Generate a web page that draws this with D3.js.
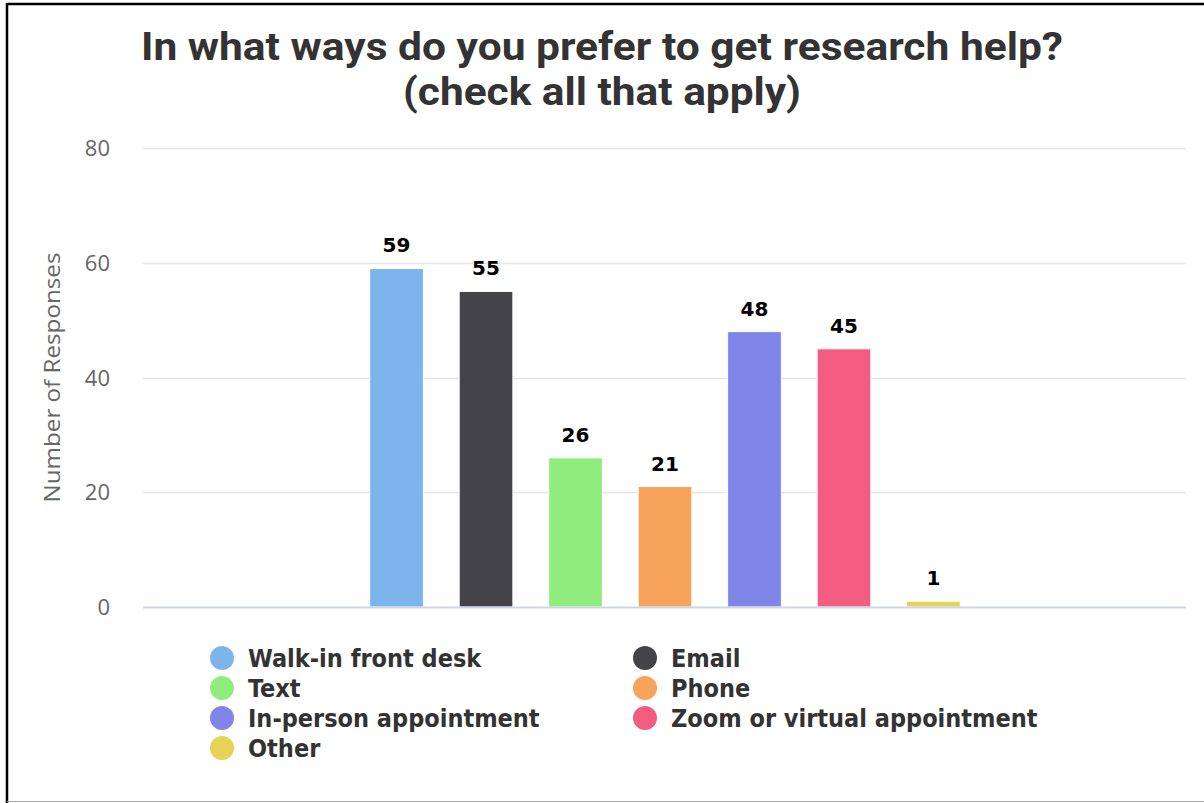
<!DOCTYPE html>
<html>
<head>
<meta charset="utf-8">
<script src="https://cdn.jsdelivr.net/npm/d3@7"></script>
<style>
  body { margin: 0; background: #fff; }
  svg { display: block; }
</style>
</head>
<body>
<script>
// chart data
var categories = ['Walk-in front desk', 'Email', 'Text', 'Phone', 'In-person appointment', 'Zoom or virtual appointment', 'Other'];
var values = [59, 55, 26, 21, 48, 45, 1];
var colors = ['#7cb5ec', '#434348', '#90ed7d', '#f7a35c', '#8085e9', '#f15c80', '#e4d354'];
var yTicks = [0, 20, 40, 60, 80];
var titleLines = ['In what ways do you prefer to get research help?', '(check all that apply)'];
var yTitle = 'Number of Responses';

var W = 1204, H = 803;
var plot = { left: 143, right: 1187, top: 148, bottom: 607 };

var svg = d3.select('body').append('svg')
    .attr('width', W)
    .attr('height', H);

svg.append('rect').attr('width', W).attr('height', H).attr('fill', '#fff');

// frame
svg.append('line').attr('x1', 7).attr('x2', W).attr('y1', 4).attr('y2', 4)
    .attr('stroke', '#000').attr('stroke-width', 2.5);
svg.append('line').attr('x1', 7).attr('x2', 7).attr('y1', 3).attr('y2', H)
    .attr('stroke', '#000').attr('stroke-width', 2.5);
svg.append('line').attr('x1', 7).attr('x2', W).attr('y1', 801.5).attr('y2', 801.5)
    .attr('stroke', '#aaa').attr('stroke-width', 1);

// title, one text per line
svg.append('g').selectAll('text')
    .data(titleLines)
    .enter().append('text')
    .attr('text-anchor', 'middle')
    .attr('font-family', 'Roboto, sans-serif')
    .attr('font-weight', 'bold')
    .attr('font-size', 38)
    .attr('fill', '#333')
    .attr('x', 602)
    .attr('y', function (d, i) { return 60 + i * 45; })
    .attr('textLength', function (d, i) { return i === 0 ? 922 : 398; })
    .attr('lengthAdjust', 'spacingAndGlyphs')
    .text(function (d) { return d; });

// scales
var y = d3.scaleLinear().domain([0, 80]).range([plot.bottom, plot.top]);
var pw = plot.right - plot.left;
var x = d3.scaleBand()
    .domain(categories)
    .range([plot.left + pw * 0.2, plot.right - pw * 0.2])
    .paddingInner(0.4)
    .paddingOuter(0.2);

// grid
svg.append('g').selectAll('line')
    .data(yTicks.filter(function (d) { return d > 0; }))
    .enter().append('line')
    .attr('x1', plot.left).attr('x2', plot.right - 1)
    .attr('y1', function (d) { return Math.round(y(d)) + 0.5; })
    .attr('y2', function (d) { return Math.round(y(d)) + 0.5; })
    .attr('stroke', '#e6e6e6').attr('stroke-width', 1.5);

// y axis labels
var yAxis = d3.axisLeft(y).tickValues(yTicks).tickSize(0).tickPadding(33);
var gy = svg.append('g')
    .attr('transform', 'translate(' + plot.left + ',0)')
    .call(yAxis);
gy.select('.domain').remove();
gy.selectAll('text')
    .attr('font-family', '"Open Sans", sans-serif')
    .attr('font-size', 22)
    .attr('fill', '#666')
    .attr('dy', '0.35em');

svg.append('text')
    .attr('transform', 'translate(60,' + ((plot.top + plot.bottom) / 2) + ') rotate(-90)')
    .attr('text-anchor', 'middle')
    .attr('font-family', '"Open Sans", sans-serif')
    .attr('font-size', 21)
    .attr('fill', '#666')
    .attr('textLength', 250)
    .attr('lengthAdjust', 'spacingAndGlyphs')
    .text(yTitle);

// bars
svg.append('g').selectAll('rect')
    .data(values)
    .enter().append('rect')
    .attr('x', function (d, i) { return x(categories[i]); })
    .attr('width', x.bandwidth())
    .attr('y', function (d) { return y(d); })
    .attr('height', function (d) { return y(0) - y(d); })
    .attr('fill', function (d, i) { return colors[i]; })
    .attr('stroke', '#fff').attr('stroke-width', 1);

// x axis line
svg.append('line')
    .attr('x1', plot.left).attr('x2', plot.right - 1)
    .attr('y1', plot.bottom + 0.5).attr('y2', plot.bottom + 0.5)
    .attr('stroke', '#ccd6eb').attr('stroke-width', 2);

// data labels
svg.append('g').selectAll('text')
    .data(values)
    .enter().append('text')
    .attr('x', function (d, i) { return x(categories[i]) + x.bandwidth() / 2; })
    .attr('y', function (d) { return y(d) - 16; })
    .attr('text-anchor', 'middle')
    .attr('font-family', '"DejaVu Sans", sans-serif')
    .attr('font-weight', 'bold')
    .attr('font-size', 20)
    .attr('fill', '#000')
    .text(function (d) { return d; });

// legend
var legend = svg.append('g').selectAll('g')
    .data(categories)
    .enter().append('g')
    .attr('transform', function (d, i) {
        return 'translate(' + (i % 2 === 0 ? 222 : 645) + ',' + (658 + Math.floor(i / 2) * 30) + ')';
    });
legend.append('circle')
    .attr('r', 12)
    .attr('fill', function (d, i) { return colors[i]; });
legend.append('text')
    .attr('x', 26)
    .attr('dy', '0.36em')
    .attr('font-family', '"DejaVu Sans Condensed", "DejaVu Sans", sans-serif')
    .attr('font-weight', 'bold')
    .attr('font-size', 25)
    .attr('fill', '#333')
    .text(function (d) { return d; });
</script>
</body>
</html>
